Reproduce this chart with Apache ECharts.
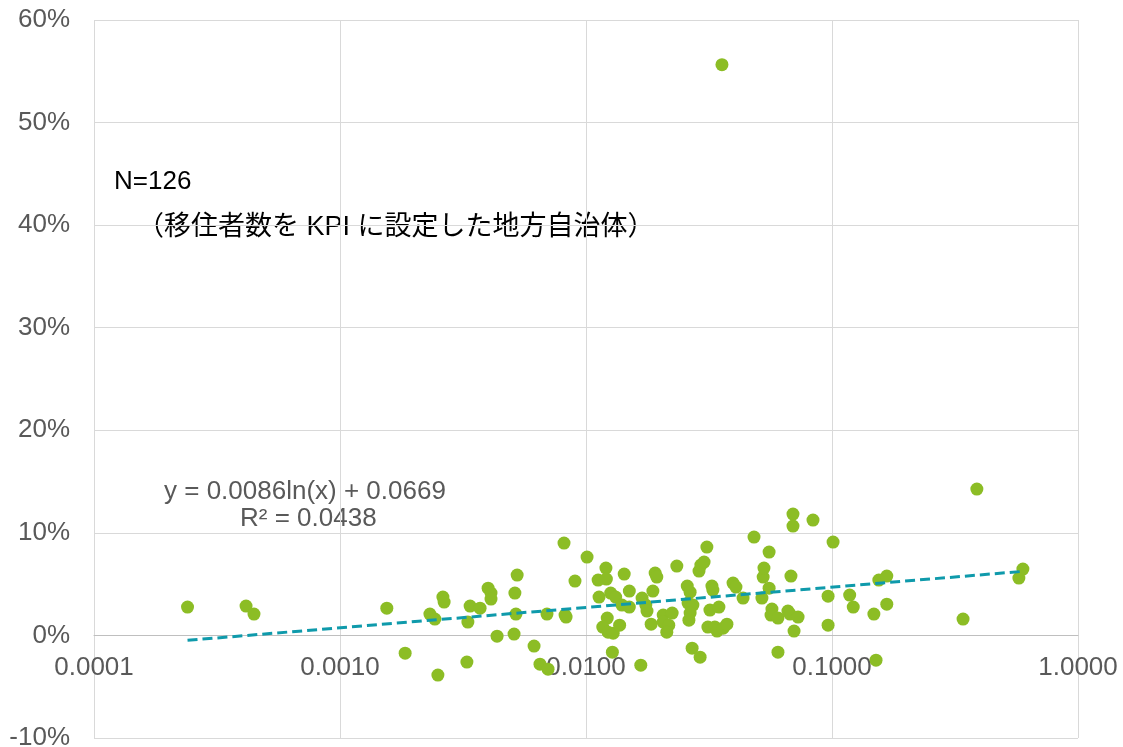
<!DOCTYPE html>
<html>
<head>
<meta charset="utf-8">
<script src="https://cdn.jsdelivr.net/npm/echarts@6/dist/echarts.min.js"></script>
<style>
  html, body { margin: 0; padding: 0; background: #fff; }
  #chart { width: 1123px; height: 747px; }
</style>
</head>
<body>
<div id="chart"></div>
<script>
// 横軸の値（対数軸）
var xValues = [
  0.00024, 0.000415, 0.000447, 0.00155, 0.00184, 0.00232, 0.00243, 0.00250, 0.00262, 0.00265,
  0.00328, 0.00338, 0.00331, 0.00371, 0.00400, 0.00411, 0.00411, 0.00435, 0.00510, 0.00519,
  0.00514, 0.00525, 0.00615, 0.00650, 0.00701, 0.00694, 0.00814, 0.00822, 0.00830, 0.00902,
  0.0101, 0.01205, 0.0112, 0.0121, 0.0143, 0.0150, 0.0113, 0.0126, 0.0132, 0.0140,
  0.0122, 0.0117, 0.0123, 0.0129, 0.0137, 0.0128, 0.0150, 0.0167, 0.0169, 0.0175,
  0.0177, 0.0184, 0.0187, 0.0191, 0.0194, 0.0206, 0.0224, 0.0206, 0.0217, 0.0213,
  0.0234, 0.0258, 0.0265, 0.0260, 0.0272, 0.0265, 0.0262, 0.0270, 0.0291, 0.0288,
  0.0293, 0.0302, 0.0310, 0.0319, 0.0347, 0.0325, 0.0328, 0.0313, 0.0334, 0.0341,
  0.0361, 0.0374, 0.0396, 0.0407, 0.0357, 0.0435, 0.0482, 0.0519, 0.0525, 0.0529,
  0.0555, 0.0555, 0.0570, 0.0565, 0.0603, 0.0603, 0.0662, 0.0675, 0.0728, 0.0681,
  0.0694, 0.0694, 0.0701, 0.0837, 0.0964, 0.0964, 0.101, 0.118, 0.122, 0.148,
  0.151, 0.155, 0.167, 0.167, 0.341, 0.388, 0.575, 0.597
];
// 縦軸の値（割合）
var yValues = [
  0.0276, 0.0286, 0.0208, 0.0266, -0.0173, 0.0208, 0.0159, -0.0387, 0.0374, 0.0325,
  -0.0260, 0.0286, 0.0130, 0.0266, 0.0461, 0.0413, 0.0354, -0.0007, 0.0013, 0.0208,
  0.0413, 0.0588, -0.0104, -0.0280, -0.0329, 0.0208, 0.0900, 0.0198, 0.0179, 0.0530,
  0.0764, 0.0657, 0.0540, 0.0549, 0.0598, 0.0432, 0.0374, 0.0413, 0.0374, 0.0296,
  0.0169, 0.0081, 0.0032, 0.0022, 0.0100, -0.0163, 0.0276, -0.0290, 0.0364, 0.0296,
  0.0237, 0.0110, 0.0432, 0.0608, 0.0569, 0.0198, 0.0218, 0.0130, 0.0100, 0.0032,
  0.0676, 0.0481, 0.0422, 0.0315, 0.0296, 0.0218, 0.0149, -0.0124, -0.0212, 0.0627,
  0.0686, 0.0715, 0.0861, 0.0247, 0.0276, 0.0481, 0.0442, 0.0081, 0.0081, 0.0042,
  0.0071, 0.0110, 0.0510, 0.0471, 0.5564, 0.0364, 0.0959, 0.0364, 0.0569, 0.0657,
  0.0813, 0.0461, 0.0257, 0.0198, 0.0169, -0.0163, 0.0237, 0.0208, 0.0179, 0.0579,
  0.1183, 0.1066, 0.0042, 0.1125, 0.0383, 0.0100, 0.0910, 0.0393, 0.0276, 0.0208,
  -0.0241, 0.0540, 0.0579, 0.0305, 0.0159, 0.1427, 0.0559, 0.0647
];
// 近似曲線 y = 0.0086ln(x) + 0.0669 の両端
var trendX = [0.00024, 0.6];
var trendY = [-0.0048, 0.0625];

var xTicks = [0.0001, 0.001, 0.01, 0.1, 1];
var yTicks = [-0.1, 0, 0.1, 0.2, 0.3, 0.4, 0.5, 0.6];

var points = xValues.map(function (x, i) { return [x, yValues[i]]; });
var trend = trendX.map(function (x, i) { return [x, trendY[i]]; });

var myChart = echarts.init(document.getElementById('chart'));
var labelFont = 'Liberation Sans, Arial, sans-serif';
var gridTop = 20, gridBottom = 9;
var plotH = 747 - gridTop - gridBottom;
// x軸を0%の位置へ移動
var zeroOffset = -plotH * (0 - yTicks[0]) / (yTicks[yTicks.length - 1] - yTicks[0]);

var option = {
  backgroundColor: '#ffffff',
  animation: false,
  grid: { left: 94, right: 45, top: gridTop, bottom: gridBottom, outerBoundsMode: 'none', containLabel: false },
  xAxis: {
    type: 'log',
    logBase: 10,
    min: xTicks[0],
    max: xTicks[xTicks.length - 1],
    offset: zeroOffset,
    axisLine: { show: true, onZero: false, lineStyle: { color: '#bfbfbf', width: 1 } },
    axisTick: { show: false },
    axisLabel: {
      color: '#595959', fontSize: 26, fontFamily: labelFont, margin: 19,
      formatter: function (v) { return Number(v).toFixed(4); }
    },
    splitLine: { show: true, lineStyle: { color: '#d9d9d9', width: 1 } }
  },
  yAxis: {
    type: 'value',
    min: yTicks[0],
    max: yTicks[yTicks.length - 1],
    interval: 0.1,
    axisLine: { show: false, onZero: false },
    axisTick: { show: false },
    axisLabel: {
      color: '#595959', fontSize: 26, fontFamily: labelFont, margin: 24,
      formatter: function (v) { return Math.round(v * 100) + '%'; }
    },
    splitLine: { show: true, lineStyle: { color: '#d9d9d9', width: 1 } }
  },
  series: [
    {
      type: 'scatter',
      symbolSize: 13,
      itemStyle: { color: '#8cbd25', opacity: 1 },
      data: points,
      z: 2
    },
    {
      type: 'line',
      data: trend,
      symbol: 'none',
      lineStyle: { color: '#0f9aab', width: 3, type: [10, 5] },
      z: 3
    }
  ],
  graphic: [
    { type: 'text', left: 114, top: 169,
      style: { text: 'N=126', fill: '#000', fontSize: 26, fontFamily: labelFont } },
    { type: 'text', left: 137, top: 214,
      style: { text: '（移住者数を KPI に設定した地方自治体）', fill: '#000', fontSize: 27,
               fontFamily: 'Liberation Sans, "Noto Sans CJK JP", sans-serif' } },
    { type: 'text', left: 164, top: 479,
      style: { text: 'y = 0.0086ln(x) + 0.0669', fill: '#595959', fontSize: 26, fontFamily: labelFont } },
    { type: 'text', left: 240, top: 506,
      style: { text: 'R² = 0.0438', fill: '#595959', fontSize: 26, fontFamily: labelFont } }
  ]
};
myChart.setOption(option);
window.addEventListener('resize', function () { myChart.resize(); });
</script>
</body>
</html>
